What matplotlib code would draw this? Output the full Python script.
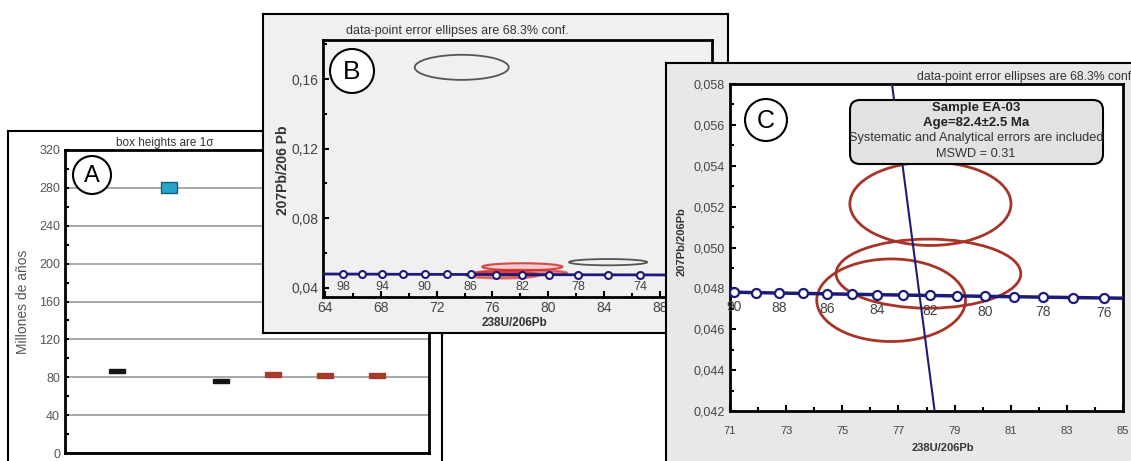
import numpy as np
import matplotlib
matplotlib.use("Agg")
import matplotlib.pyplot as plt
from matplotlib.patches import Rectangle, Ellipse, Circle, FancyBboxPatch
from matplotlib.ticker import MultipleLocator, FixedLocator, FuncFormatter

plt.rcParams['font.family'] = ['Liberation Sans', 'DejaVu Sans']

W, H = 1131, 461

# Panel A: ages (Ma) with 1 sigma box heights
a_pos = [1, 2, 3, 4, 5, 6]
a_age = [86.3, 280.2, 75.7, 83.1, 82.0, 82.0]
a_err = [2.0, 5.8, 2.0, 2.6, 2.6, 2.6]
a_colors = ['#151515', '#2aa3c8', '#151515', '#a83a2c', '#a83a2c', '#a83a2c']

# concordia: age (Ma), 238U/206Pb, 207Pb/206Pb
conc_age = [101, 98, 96, 94, 92, 91, 90, 89, 88, 87, 86, 85, 84, 83, 82, 81, 80, 79, 78, 77, 76, 75, 74, 72]
conc_u238 = [63.33, 65.28, 66.65, 68.08, 69.57, 70.34, 71.13, 71.93, 72.76, 73.60, 74.46, 75.34,
             76.24, 77.17, 78.12, 79.09, 80.08, 81.10, 82.15, 83.22, 84.32, 85.45, 86.62, 89.04]
conc_pb207 = [0.048034, 0.047974, 0.047933, 0.047893, 0.047853, 0.047833, 0.047813, 0.047793,
              0.047772, 0.047752, 0.047732, 0.047712, 0.047692, 0.047672, 0.047652, 0.047632,
              0.047612, 0.047592, 0.047571, 0.047551, 0.047531, 0.047511, 0.047491, 0.047451]
b_marks = [98, 96, 94, 92, 90, 88, 86, 84, 82, 80, 78, 76, 74]
b_labels = [98, 94, 90, 86, 82, 78, 74]
c_marks = [90, 89, 88, 87, 86, 85, 84, 83, 82, 81, 80, 79, 78, 77, 76]
c_labels = [90, 88, 86, 84, 82, 80, 78, 76]

# sample EA-03 error ellipses (center, semi-axes)
ell_x = [78.14, 78.07, 76.74]
ell_y = [0.05214, 0.04872, 0.04742]
ell_sx = [2.87, 3.29, 2.65]
ell_sy = [0.00204, 0.00169, 0.00202]

# other grains in panel B
gray_x = [73.8, 84.3]
gray_y = [0.1667, 0.0548]
gray_sx = [3.37, 2.8]
gray_sy = [0.0072, 0.0018]

# regression line in C
disc_x = [76.58, 78.48]
disc_y = [0.060, 0.040]

NAVY = '#1c1c78'
RED = '#a83428'
TXT = '#444444'


def rect(l, t, r, b):
    return [l / W, 1 - b / H, (r - l) / W, (b - t) / H]


fig = plt.figure(figsize=(W / 100, H / 100), dpi=100)


def put(ax, x, y, s, **kw):
    return ax.text(x / 100, (H - y) / 100, s, transform=fig.dpi_scale_trans, clip_on=False, **kw)


def circle_label(ax, x, y, r, s, fs):
    c = Circle((x / 100, (H - y) / 100), r / 100, transform=fig.dpi_scale_trans,
               facecolor='white', edgecolor='black', lw=1.5, clip_on=False, zorder=5)
    ax.add_artist(c)
    put(ax, x, y + 1, s, fontsize=fs, ha='center', va='center', zorder=6)


def frame(l, t, r, b, color, z):
    f = fig.add_axes(rect(l, t, r, b))
    f.set_facecolor(color)
    f.set_xticks([])
    f.set_yticks([])
    for s in f.spines.values():
        s.set_linewidth(1.5)
    f.set_zorder(z)
    return f


def comma(v, pos, nd):
    return f"{v:.{nd}f}".replace('.', ',')


# ---------------- Panel A ----------------
fa = frame(8, 131, 442, 480, 'white', 1)
put(fa, 165, 143, 'box heights are 1σ', fontsize=8.5, ha='center', va='center', color='#333333')
put(fa, 23, 302, 'Millones de años', fontsize=10, rotation=90, ha='center', va='center', color='#555555')

axA = fig.add_axes(rect(65, 150, 429, 453))
axA.set_zorder(2)
axA.set_xlim(0, 7)
axA.set_ylim(0, 320)
axA.yaxis.set_major_locator(MultipleLocator(40))
axA.yaxis.set_minor_locator(MultipleLocator(20))
axA.set_xticks([])
axA.grid(axis='y', color='#999999', lw=1.2)
axA.set_axisbelow(True)
axA.tick_params(axis='y', which='both', direction='in', length=3, width=1.5, labelsize=9, labelcolor='#555555')
for s in axA.spines.values():
    s.set_linewidth(2)
for x, y, e, c in zip(a_pos, a_age, a_err, a_colors):
    edge = '#1a5f78' if c == '#2aa3c8' else c
    axA.add_patch(Rectangle((x - 0.15, y - e), 0.3, 2 * e, facecolor=c, edgecolor=edge, lw=1, zorder=3))
circle_label(axA, 92, 175, 19, 'A', 17)

# ---------------- Panel B ----------------
fb = frame(263, 14, 728, 333, '#f0f0f0', 3)
put(fb, 457, 31, 'data-point error ellipses are 68.3% conf.', fontsize=9, ha='center', va='center', color='#333333')
put(fb, 283, 170, '207Pb/206 Pb', fontsize=10, rotation=90, ha='center', va='center', weight='bold', color='#333333')
put(fb, 515, 323, '238U/206Pb', fontsize=8.5, ha='center', va='center', weight='bold', color='#333333')

axB = fig.add_axes(rect(323, 40, 712, 297))
axB.set_zorder(4)
axB.set_facecolor('#f0f0f0')
axB.set_xlim(63.85, 91.75)
axB.set_ylim(0.0348, 0.1824)
axB.xaxis.set_major_locator(MultipleLocator(4))
axB.xaxis.set_minor_locator(MultipleLocator(2))
axB.yaxis.set_major_locator(MultipleLocator(0.04))
axB.yaxis.set_minor_locator(MultipleLocator(0.02))
axB.yaxis.set_major_formatter(FuncFormatter(lambda v, p: comma(v, p, 2)))
axB.tick_params(which='both', direction='in', width=1.5, labelsize=10, labelcolor=TXT, pad=3)
axB.tick_params(which='major', length=4)
axB.tick_params(which='minor', length=3)
for s in axB.spines.values():
    s.set_linewidth(2)

for x, y, sx, sy in zip(gray_x, gray_y, gray_sx, gray_sy):
    axB.add_patch(Ellipse((x, y), 2 * sx, 2 * sy, fill=False, edgecolor='#555555', lw=1.3))
axB.add_patch(Ellipse((ell_x[0], ell_y[0]), 2 * ell_sx[0], 2 * ell_sy[0],
                      facecolor='#f4c8c8', edgecolor='#d03a3a', lw=1.5, alpha=0.9))
for i in (1, 2):
    axB.add_patch(Ellipse((ell_x[i], ell_y[i]), 2 * ell_sx[i], 2 * ell_sy[i],
                          facecolor='#e02828', edgecolor='#d02020', lw=1.5, alpha=0.55))
axB.plot(conc_u238, conc_pb207, color=NAVY, lw=2, zorder=4)
bx = [conc_u238[conc_age.index(a)] for a in b_marks]
by = [conc_pb207[conc_age.index(a)] for a in b_marks]
axB.plot(bx, by, 'o', ms=5, mfc='white', mec=NAVY, mew=1.5, zorder=5)
for a in b_labels:
    i = conc_age.index(a)
    axB.annotate(str(a), (conc_u238[i], conc_pb207[i]), xytext=(0, -9), textcoords='offset points',
                 ha='center', va='center', fontsize=9, color=TXT)
circle_label(axB, 352, 71, 22, 'B', 19)

# ---------------- Panel C ----------------
fc = frame(666, 63, 1140, 480, '#e8e8e8', 5)
put(fc, 917, 77, 'data-point error ellipses are 68.3% conf', fontsize=8.8, ha='left', va='center', color='#333333')
put(fc, 682, 242, '207Pb/206Pb', fontsize=8, rotation=90, ha='center', va='center', weight='bold', color='#333333')
put(fc, 943, 448, '238U/206Pb', fontsize=8, ha='center', va='center', weight='bold', color='#333333')

axC = fig.add_axes(rect(730, 84, 1123, 411))
axC.set_zorder(6)
axC.set_xlim(71, 85)
axC.set_ylim(0.042, 0.058)
axC.xaxis.set_major_locator(FixedLocator(np.arange(71, 86, 2)))
axC.xaxis.set_minor_locator(MultipleLocator(1))
axC.yaxis.set_major_locator(MultipleLocator(0.002))
axC.yaxis.set_minor_locator(MultipleLocator(0.001))
axC.yaxis.set_major_formatter(FuncFormatter(lambda v, p: comma(v, p, 3)))
axC.tick_params(which='both', direction='in', width=1.5, labelcolor=TXT)
axC.tick_params(axis='x', labelsize=8, pad=11)
axC.tick_params(axis='y', labelsize=9, pad=4)
axC.tick_params(which='major', length=4)
axC.tick_params(which='minor', length=3)
for s in axC.spines.values():
    s.set_linewidth(2)

for x, y, sx, sy in zip(ell_x, ell_y, ell_sx, ell_sy):
    axC.add_patch(Ellipse((x, y), 2 * sx, 2 * sy, fill=False, edgecolor=RED, lw=2))
axC.plot(disc_x, disc_y, color=NAVY, lw=1.5, zorder=3)
axC.plot(conc_u238, conc_pb207, color=NAVY, lw=2.5, zorder=4)
cx = [conc_u238[conc_age.index(a)] for a in c_marks]
cy = [conc_pb207[conc_age.index(a)] for a in c_marks]
axC.plot(cx, cy, 'o', ms=6.5, mfc='white', mec=NAVY, mew=1.6, zorder=5, clip_on=False)
for a in c_labels:
    i = conc_age.index(a)
    axC.annotate(str(a), (conc_u238[i], conc_pb207[i]), xytext=(0, -11), textcoords='offset points',
                 ha='center', va='center', fontsize=10, color=TXT)

box = FancyBboxPatch((8.50, (H - 164) / 100), 2.53, 0.64, boxstyle='round,pad=0,rounding_size=0.1',
                     transform=fig.dpi_scale_trans, facecolor='#e2e2e2', edgecolor='black', lw=1.5,
                     clip_on=False, zorder=7)
axC.add_artist(box)
put(axC, 976, 108, 'Sample EA-03', fontsize=9.5, weight='bold', ha='center', va='center', color='#222222', zorder=8)
put(axC, 976, 123, 'Age=82.4±2.5 Ma', fontsize=9.5, weight='bold', ha='center', va='center', color='#222222', zorder=8)
put(axC, 976, 138, 'Systematic and Analytical errors are included', fontsize=9.2, ha='center', va='center',
    color='#333333', zorder=8)
put(axC, 976, 154, 'MSWD = 0.31', fontsize=9.2, ha='center', va='center', color='#333333', zorder=8)
circle_label(axC, 766, 120, 21, 'C', 18)

fig.savefig('out.png', dpi=100)
